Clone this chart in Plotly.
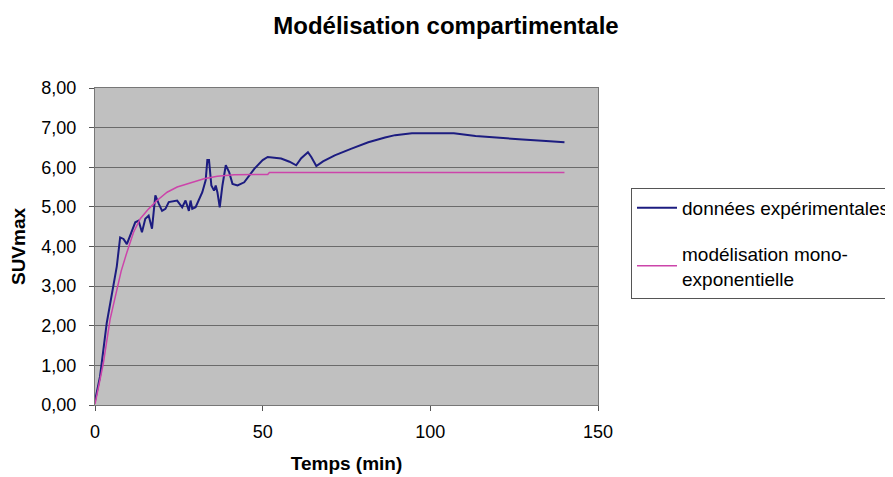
import plotly.graph_objects as go

# Experimental data
t_exp = [0, 1.5, 3.5, 5.5, 6.5, 7.5, 8.5, 9.5, 10.5, 12, 13, 14, 15, 16, 17, 18, 19, 20, 21, 22,
         24.5, 26, 27, 28, 28.5, 29, 30, 31, 32, 33, 33.5, 34, 34.7, 35.5, 36, 36.5, 37.2, 38, 39,
         40, 41, 42.5, 44.5, 47.5, 50, 51.5, 55.5, 58, 60, 61.5, 63.5, 64.5, 66, 68, 71.5, 76.5,
         81.5, 86.5, 89.5, 94.5, 107, 113.5, 120.5, 127.5, 134.5, 140]
v_exp = [0.1, 0.72, 2.07, 3.0, 3.5, 4.23, 4.19, 4.06, 4.27, 4.61, 4.65, 4.36, 4.7, 4.78, 4.45, 5.29,
         5.08, 4.9, 4.95, 5.12, 5.16, 4.99, 5.16, 4.9, 5.16, 4.95, 4.99, 5.2, 5.37, 5.67, 6.18, 6.18,
         5.54, 5.41, 5.54, 5.37, 4.99, 5.54, 6.05, 5.88, 5.58, 5.54, 5.62, 5.96, 6.18, 6.26, 6.22,
         6.14, 6.05, 6.23, 6.38, 6.26, 6.03, 6.15, 6.3, 6.47, 6.63, 6.75, 6.81, 6.86, 6.86, 6.79,
         6.74, 6.70, 6.66, 6.63]

# Mono-exponential model
t_mod = [0, 2.5, 4.5, 6.5, 7.8, 9.5, 11.5, 13.5, 16, 18.5, 21.5, 24.5, 28.5, 32.5, 36.5, 41.5,
         51.5, 52, 140]
v_mod = [0.02, 1.06, 2.16, 2.92, 3.38, 3.85, 4.36, 4.7, 4.95, 5.16, 5.37, 5.5, 5.61, 5.71, 5.77,
         5.81, 5.82, 5.87, 5.87]

x_ticks = [0, 50, 100, 150]
y_ticks = [0, 1, 2, 3, 4, 5, 6, 7, 8]

FONT = "Liberation Sans, Arial, sans-serif"

fig = go.Figure()
fig.add_trace(go.Scatter(x=t_exp, y=v_exp, mode="lines", name="données expérimentales",
                         line=dict(color="#1c1c80", width=2), legendgroup="a"))
fig.add_trace(go.Scatter(x=t_mod, y=v_mod, mode="lines", name="modélisation mono-<br>exponentielle",
                         line=dict(color="#cc44aa", width=1.5), legendgroup="b"))

fig.update_layout(
    width=910, height=477,
    margin=dict(l=87, r=320, t=80, b=80),
    paper_bgcolor="white", plot_bgcolor="#c0c0c0",
    separators=", ",
    font=dict(family=FONT, size=18, color="black"),
    title=dict(text="<b>Modélisation compartimentale</b>", x=0.4813, xanchor="center",
               y=0.964, yanchor="middle", font=dict(size=24, family=FONT)),
    legend=dict(x=1.0656, y=0.685, xanchor="left", yanchor="top",
                bordercolor="#555555", borderwidth=1, bgcolor="white",
                font=dict(size=19, family=FONT), tracegroupgap=18, itemwidth=40),
    showlegend=True,
)
fig.update_xaxes(range=[0, 150], tickvals=x_ticks, ticks="outside", ticklen=5,
                 tickcolor="#555555", showgrid=False, zeroline=False, automargin=False,
                 showline=True, linecolor="#777777", linewidth=1, mirror=True,
                 ticklabelstandoff=5,
                 title=dict(text="<b>Temps (min)</b>", font=dict(size=19, family=FONT), standoff=16),
                 tickfont=dict(size=18))
fig.update_yaxes(range=[0, 8], tickvals=y_ticks, tickformat=".2f", ticks="outside", ticklen=5,
                 tickcolor="#555555", showgrid=True, gridcolor="#6a6a6a", gridwidth=1,
                 zeroline=False, showline=True, linecolor="#777777", linewidth=1, mirror=True,
                 automargin=False, ticklabelstandoff=9,
                 title=dict(text="<b>SUVmax</b>", font=dict(size=19, family=FONT), standoff=12),
                 tickfont=dict(size=18))

fig.write_html("out.html")
